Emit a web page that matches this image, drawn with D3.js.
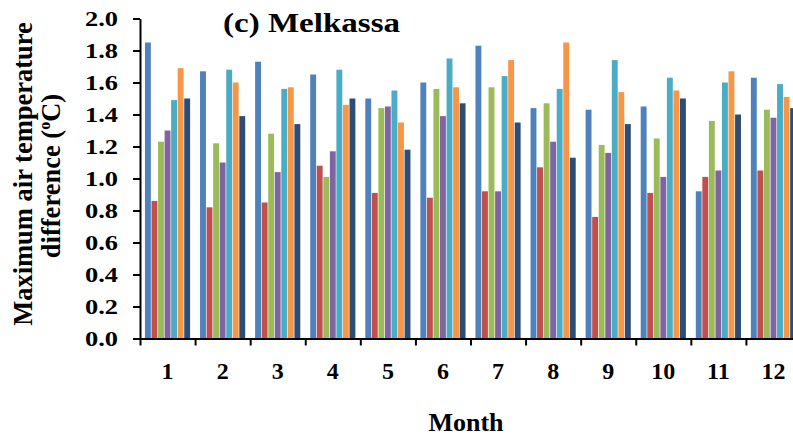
<!DOCTYPE html>
<html>
<head>
<meta charset="utf-8">
<script src="https://cdn.jsdelivr.net/npm/d3@7"></script>
<style>
  html, body { margin: 0; padding: 0; background: #fff; overflow: hidden; }
  svg text { font-family: "Liberation Serif", "Times New Roman", serif; font-weight: bold; fill: #000; }
</style>
</head>
<body>
<svg id="chart" width="793" height="438"></svg>
<script>
// Months on the category axis
const months = ["1", "2", "3", "4", "5", "6", "7", "8", "9", "10", "11", "12"];
// Value-axis ticks (°C)
const yTicks = [0.0, 0.2, 0.4, 0.6, 0.8, 1.0, 1.2, 1.4, 1.6, 1.8, 2.0];

// Maximum air temperature difference per month, one array per series
const series1 = [1.85, 1.67, 1.73, 1.65, 1.50, 1.60, 1.83, 1.44, 1.43, 1.45, 0.92, 1.63];
const series2 = [0.86, 0.82, 0.85, 1.08, 0.91, 0.88, 0.92, 1.07, 0.76, 0.91, 1.01, 1.05];
const series3 = [1.23, 1.22, 1.28, 1.01, 1.44, 1.56, 1.57, 1.47, 1.21, 1.25, 1.36, 1.43];
const series4 = [1.30, 1.10, 1.04, 1.17, 1.45, 1.39, 0.92, 1.23, 1.16, 1.01, 1.05, 1.38];
const series5 = [1.49, 1.68, 1.56, 1.68, 1.55, 1.75, 1.64, 1.56, 1.74, 1.63, 1.60, 1.59];
const series6 = [1.69, 1.60, 1.57, 1.46, 1.35, 1.57, 1.74, 1.85, 1.54, 1.55, 1.67, 1.51];
const series7 = [1.50, 1.39, 1.34, 1.50, 1.18, 1.47, 1.35, 1.13, 1.34, 1.50, 1.40, 1.44];

const allSeries = [series1, series2, series3, series4, series5, series6, series7];
const seriesColors = ["#4F81BD", "#C0504D", "#9BBB59", "#8064A2", "#4BACC6", "#F79646", "#2C4D75"];

const svg = d3.select("#chart");

// Plot frame
const plotLeft = 140, plotRight = 801, plotTop = 18.5, plotBottom = 338.5;

const y = d3.scaleLinear().domain([0, 2]).range([plotBottom, plotTop]);
const x = d3.scaleBand().domain(months).range([plotLeft, plotRight])
  .paddingInner(0.18).paddingOuter(0.09);
const xInner = d3.scaleBand().domain(d3.range(allSeries.length))
  .range([0, x.bandwidth()]).paddingInner(0.1);
// Category boundaries (for the tick marks between months)
const xEdge = d3.scaleLinear().domain([0, months.length]).range([plotLeft, plotRight]);

// Bars
const groups = svg.append("g").selectAll("g")
  .data(months)
  .join("g")
  .attr("transform", m => `translate(${x(m)},0)`);

groups.selectAll("rect")
  .data((m, mi) => allSeries.map((s, si) => ({ si, v: s[mi] })))
  .join("rect")
  .attr("x", d => xInner(d.si))
  .attr("y", d => y(d.v))
  .attr("width", xInner.bandwidth())
  .attr("height", d => y(0) - y(d.v))
  .attr("fill", d => seriesColors[d.si]);

// Y axis
const yAxis = svg.append("g")
  .attr("transform", `translate(${plotLeft},0)`)
  .call(d3.axisLeft(y).tickValues(yTicks).tickSize(7).tickSizeOuter(0)
    .tickPadding(15).tickFormat(d3.format(".1f")));
yAxis.select(".domain").attr("stroke", "#000").attr("stroke-width", 2);
yAxis.selectAll(".tick line").attr("stroke", "#000").attr("stroke-width", 2);
yAxis.selectAll(".tick text")
  .attr("font-size", 21)
  .attr("textLength", 33)
  .attr("lengthAdjust", "spacingAndGlyphs");
yAxis.attr("font-family", null).attr("font-size", null);

// X axis: boundary ticks
const xAxis = svg.append("g")
  .attr("transform", `translate(0,${plotBottom})`)
  .call(d3.axisBottom(xEdge).tickValues(d3.range(months.length + 1))
    .tickSize(7).tickSizeOuter(0).tickFormat(""));
xAxis.select(".domain").attr("stroke", "#000").attr("stroke-width", 2);
xAxis.selectAll(".tick line").attr("stroke", "#000").attr("stroke-width", 2);

// X axis: month labels centred under each group
const xLabels = svg.append("g")
  .attr("transform", `translate(0,${plotBottom})`)
  .call(d3.axisBottom(x).tickSize(0).tickPadding(0));
xLabels.select(".domain").remove();
xLabels.selectAll(".tick text")
  .attr("y", 40)
  .attr("dy", 0)
  .attr("font-size", 24);
xLabels.attr("font-family", null).attr("font-size", null);

// Title
svg.append("text")
  .attr("x", 223)
  .attr("y", 31.5)
  .attr("font-size", 27)
  .attr("textLength", 177)
  .attr("lengthAdjust", "spacingAndGlyphs")
  .text("(c) Melkassa");

// Axis titles
svg.append("text")
  .attr("text-anchor", "middle")
  .attr("transform", "translate(32,174) rotate(-90)")
  .attr("font-size", 26.5)
  .text("Maximum air temperature");

const yTitle2 = svg.append("text")
  .attr("text-anchor", "middle")
  .attr("transform", "translate(60,176) rotate(-90)")
  .attr("font-size", 26.5);
yTitle2.append("tspan").text("difference (");
yTitle2.append("tspan").attr("font-size", 16).attr("dy", -10).text("o");
yTitle2.append("tspan").attr("dy", 10).text("C)");

svg.append("text")
  .attr("text-anchor", "middle")
  .attr("x", 466)
  .attr("y", 431)
  .attr("font-size", 26)
  .text("Month");
</script>
</body>
</html>
